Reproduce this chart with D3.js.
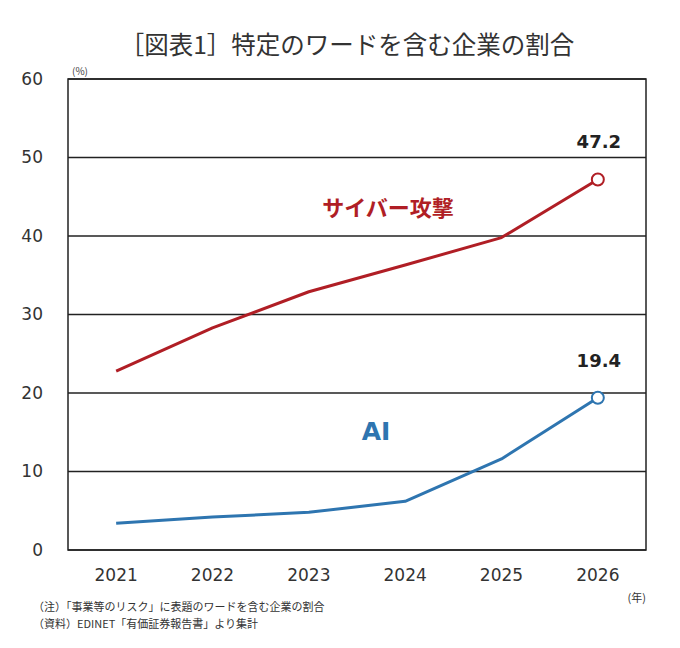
<!DOCTYPE html>
<html><head><meta charset="utf-8">
<script src="https://cdn.jsdelivr.net/npm/d3@7"></script>
<style>body{margin:0;background:#fff;}</style>
</head><body>
<svg id="c" width="680" height="648"></svg>
<script>
const years = ["2021","2022","2023","2024","2025","2026"];
const cyber = [22.8, 28.3, 32.9, 36.3, 39.8, 47.2];
const ai = [3.4, 4.2, 4.8, 6.2, 11.6, 19.4];
const yTicks = [0, 10, 20, 30, 40, 50, 60];
const title = "［図表1］特定のワードを含む企業の割合";
const notes = ["（注）「事業等のリスク」に表題のワードを含む企業の割合", "（資料）EDINET「有価証券報告書」より集計"];

const svg = d3.select("#c");
const L = 68, R = 646, T = 79, B = 550;
const x = d3.scaleBand().domain(years).range([L, R]);
const y = d3.scaleLinear().domain([0, 60]).range([B, T]);
const cx = d => x(d) + x.bandwidth() / 2;
const jp = "'Noto Sans CJK JP', sans-serif";
const num = "'DejaVu Sans', Verdana, sans-serif";

svg.append("text").attr("x", 347).attr("y", 54).attr("text-anchor", "middle")
  .attr("font-family", jp).attr("font-size", 24.5).attr("fill", "#333").text(title);

// gridlines
svg.append("g").selectAll("line").data(yTicks).join("line")
  .attr("x1", L).attr("x2", R).attr("y1", d => y(d)).attr("y2", d => y(d))
  .attr("stroke", "#222").attr("stroke-width", 1.5);
svg.append("rect").attr("x", L).attr("y", T).attr("width", R - L).attr("height", B - T)
  .attr("fill", "none").attr("stroke", "#222").attr("stroke-width", 1.5);

// y labels
svg.append("g").selectAll("text").data(yTicks).join("text")
  .attr("x", 43).attr("y", d => y(d)).attr("dy", "0.35em").attr("text-anchor", "end")
  .attr("font-family", num).attr("font-size", 17).attr("fill", "#333").text(d => d);
// x labels
svg.append("g").selectAll("text").data(years).join("text")
  .attr("x", d => cx(d)).attr("y", 581).attr("text-anchor", "middle")
  .attr("font-family", num).attr("font-size", 17).attr("fill", "#333").text(d => d);

svg.append("text").attr("x", 72).attr("y", 75).attr("font-family", jp).attr("font-size", 10).attr("fill", "#444").text("(%)");
svg.append("text").attr("x", 646).attr("y", 602).attr("text-anchor", "end").attr("font-family", jp).attr("font-size", 11).attr("fill", "#333").text("(年)");

const line = d3.line().x((d, i) => cx(years[i])).y(d => y(d));
const series = [
  {v: cyber, c: "#b01e25", label: "サイバー攻撃", lx: 388, ly: 216, fs: 22},
  {v: ai, c: "#2e75b0", label: "AI", lx: 376, ly: 440, fs: 25}
];
series.forEach(s => {
  svg.append("path").datum(s.v).attr("d", line).attr("fill", "none")
    .attr("stroke", s.c).attr("stroke-width", 3).attr("stroke-linejoin", "round");
  const last = s.v.length - 1;
  svg.append("circle").attr("cx", cx(years[last])).attr("cy", y(s.v[last])).attr("r", 6)
    .attr("fill", "#fff").attr("stroke", s.c).attr("stroke-width", 2);
  svg.append("text").attr("x", cx(years[last]) + 1).attr("y", y(s.v[last]) - 31)
    .attr("text-anchor", "middle").attr("font-family", num).attr("font-weight", "bold")
    .attr("font-size", 18).attr("fill", "#222").text(s.v[last].toFixed(1));
  svg.append("text").attr("x", s.lx).attr("y", s.ly).attr("text-anchor", "middle")
    .attr("font-family", s.label === "AI" ? num : jp).attr("font-weight", "bold")
    .attr("font-size", s.fs).attr("fill", s.c).text(s.label);
});

svg.append("g").selectAll("text").data(notes).join("text")
  .attr("x", 33).attr("y", (d, i) => 611 + i * 17)
  .attr("font-family", jp).attr("font-size", 11).attr("fill", "#333").text(d => d);
</script>
</body></html>
